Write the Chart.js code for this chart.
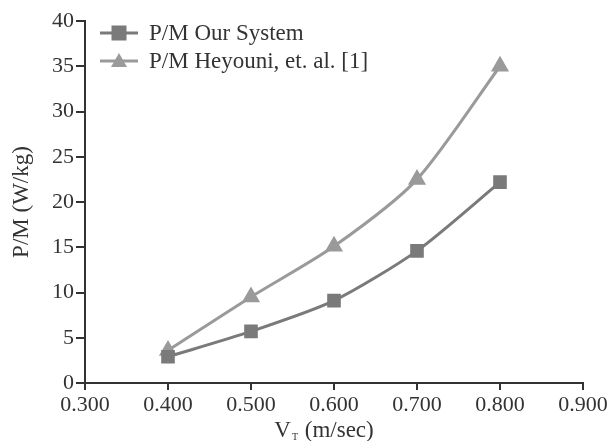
<!DOCTYPE html>
<html>
<head>
<meta charset="utf-8">
<script src="https://cdn.jsdelivr.net/npm/chart.js@4.4.1/dist/chart.umd.min.js"></script>
<style>
html,body{margin:0;padding:0;background:#fff;}
#wrap{width:612px;height:441px;position:relative;}
</style>
</head>
<body>
<div id="wrap"><canvas id="c" width="612" height="441"></canvas></div>
<script>
const velocities = [0.4, 0.5, 0.6, 0.7, 0.8];
const ourSystem = [2.9, 5.7, 9.1, 14.6, 22.2];
const heyouni = [3.6, 9.5, 15.1, 22.5, 35.0];
const seriesLabels = ['P/M Our System', 'P/M Heyouni, et. al. [1]'];
const xTitleMain = 'V';
const xTitleSub = 'T';
const xTitleRest = ' (m/sec)';
const yTitle = 'P/M (W/kg)';

const FONT = '"Liberation Serif", "Times New Roman", serif';
const AXIS = '#333333';
const C1 = '#7a7a7a';
const C2 = '#9a9a9a';

const toXY = (vals) => vals.map((v, i) => ({x: velocities[i], y: v}));

const legendPlugin = {
  id: 'customLegend',
  afterDraw(chart) {
    const ctx = chart.ctx;
    const rows = [33, 61];
    ctx.save();
    chart.data.datasets.forEach((ds, i) => {
      const y = rows[i];
      ctx.strokeStyle = ds.borderColor;
      ctx.lineWidth = 3;
      ctx.beginPath(); ctx.moveTo(100, y); ctx.lineTo(138, y); ctx.stroke();
      ctx.fillStyle = ds.pointBackgroundColor;
      if (ds.pointStyle === 'rect') {
        ctx.fillRect(119 - 7.5, y - 7.5, 15, 15);
      } else {
        ctx.beginPath();
        ctx.moveTo(119, y - 8); ctx.lineTo(127, y + 6); ctx.lineTo(111, y + 6);
        ctx.closePath(); ctx.fill();
      }
      ctx.fillStyle = AXIS;
      ctx.font = '23px ' + FONT;
      ctx.textBaseline = 'middle';
      ctx.textAlign = 'left';
      ctx.fillText(ds.label, 149, y + 1);
    });
    // x-axis title with subscript
    const big = '23px ' + FONT, small = '10px ' + FONT;
    ctx.font = big; const w1 = ctx.measureText(xTitleMain).width;
    const w3 = ctx.measureText(xTitleRest).width;
    ctx.font = small; const w2 = ctx.measureText(xTitleSub).width;
    const total = w1 + w2 + w3;
    const cx = 323;
    let x = cx - total / 2;
    const base = 437;
    ctx.textBaseline = 'alphabetic';
    ctx.fillStyle = AXIS;
    ctx.font = big; ctx.fillText(xTitleMain, x, base); x += w1;
    ctx.font = small; ctx.fillText(xTitleSub, x + 1, base + 3); x += w2 + 2;
    ctx.font = big; ctx.fillText(xTitleRest, x, base);
    ctx.restore();
  }
};

new Chart(document.getElementById('c'), {
  type: 'line',
  data: {
    datasets: [
      {
        label: seriesLabels[0], data: toXY(ourSystem),
        borderColor: C1, backgroundColor: C1, pointBackgroundColor: C1, pointBorderColor: C1,
        pointStyle: 'rect', pointRadius: 7.5, borderWidth: 3, tension: 0.25, fill: false
      },
      {
        label: seriesLabels[1], data: toXY(heyouni),
        borderColor: C2, backgroundColor: C2, pointBackgroundColor: C2, pointBorderColor: C2,
        pointStyle: 'triangle', pointRadius: 7.5, borderWidth: 3, tension: 0.25, fill: false
      }
    ]
  },
  plugins: [legendPlugin],
  options: {
    responsive: false,
    animation: false,
    devicePixelRatio: 1,
    layout: {padding: {top: 21, right: 29, left: 0, bottom: 0}},
    plugins: {legend: {display: false}, tooltip: {enabled: false}},
    scales: {
      x: {
        type: 'linear', min: 0.3, max: 0.9,
        afterFit(s) { s.height = 58; },
        ticks: {stepSize: 0.1, color: AXIS, font: {family: FONT, size: 22}, padding: 2,
          callback: (v) => v.toFixed(3)},
        grid: {drawOnChartArea: false, drawTicks: true, tickLength: 7, color: AXIS, lineWidth: 2},
        border: {display: true, color: AXIS, width: 2}
      },
      y: {
        min: 0, max: 40,
        afterFit(s) { s.width = 85; },
        ticks: {stepSize: 5, color: AXIS, font: {family: FONT, size: 22}, padding: 2},
        grid: {drawOnChartArea: false, drawTicks: true, tickLength: 9, color: AXIS, lineWidth: 2},
        border: {display: true, color: AXIS, width: 2},
        title: {display: true, text: yTitle, color: AXIS, font: {family: FONT, size: 23}, padding: {top: 8, bottom: 0}}
      }
    }
  }
});
</script>
</body>
</html>
